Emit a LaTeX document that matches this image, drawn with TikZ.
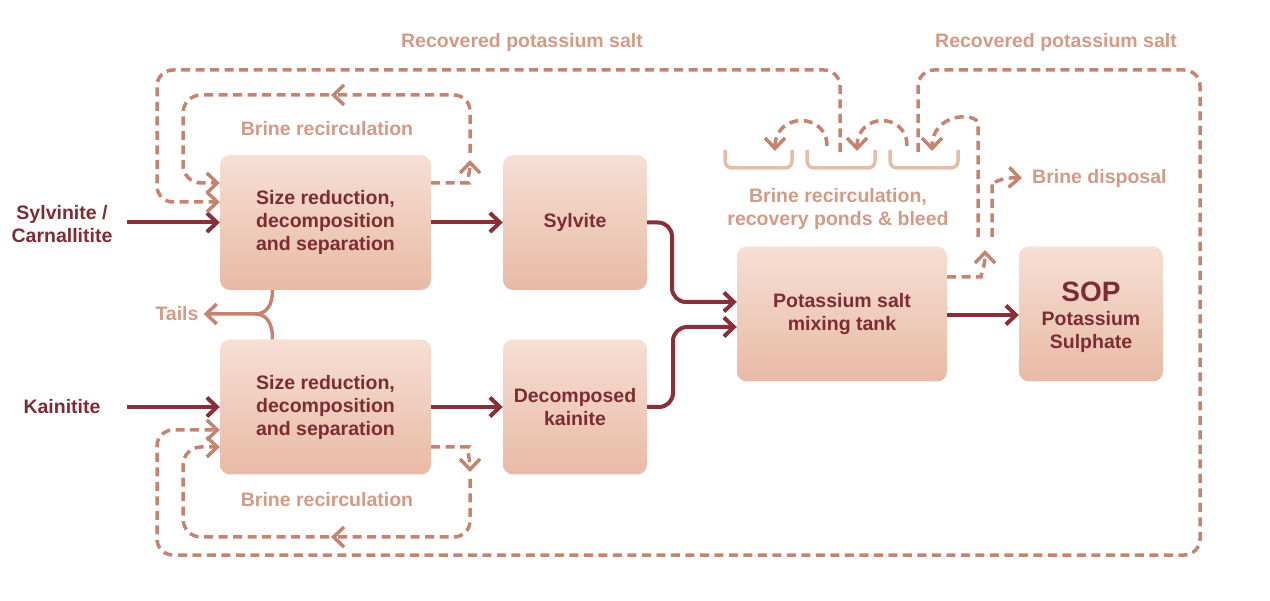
\documentclass[tikz,border=0pt]{standalone}
\usepackage{fontspec}
\setmainfont{Liberation Sans}
\usetikzlibrary{arrows.meta}
\definecolor{dred}{HTML}{8A2F38}
\definecolor{dtext}{HTML}{7E2C33}
\definecolor{dashc}{HTML}{C68470}
\definecolor{ltext}{HTML}{D39A86}
\definecolor{pondc}{HTML}{E5BDAA}
\definecolor{boxtop}{HTML}{F6DFD3}
\definecolor{boxbot}{HTML}{E8BAA5}
\tikzset{
  proc/.style={rounded corners=10pt, top color=boxtop, bottom color=boxbot, draw=none,
    minimum width=#1, minimum height=135pt, align=center, inner sep=0pt,
    font=\fontsize{19.5}{23}\selectfont\bfseries, text=dtext},
  lab/.style={font=\fontsize{19.5}{23}\selectfont\bfseries, text=ltext, align=center, inner sep=0pt},
  inlab/.style={font=\fontsize{19.5}{23}\selectfont\bfseries, text=dtext, align=center, inner sep=0pt},
  mainarrow/.style={draw=dred, line width=4pt, rounded corners=14pt,
    -{Straight Barb[length=10pt,width=19pt]}},
  recirc/.style={draw=dashc, line width=3.5pt, dash pattern=on 9pt off 5.5pt, rounded corners=16pt},
  recarrow/.style={recirc, -{Straight Barb[length=10.5pt,width=20pt]}},
  tailline/.style={draw=dashc, line width=3.5pt},
  pond/.style={draw=pondc, line width=3.5pt, rounded corners=7pt}
}
\begin{document}
\begin{tikzpicture}[x=1pt,y=-1pt]
\useasboundingbox (0,0) rectangle (1270,601);

% process boxes
\node[proc=211pt] (b1) at (325.5,222.5) {Size reduction,\\decomposition\\and separation};
\node[proc=211pt] (b2) at (325.5,407) {Size reduction,\\decomposition\\and separation};
\node[proc=144pt] (syl) at (575,222.5) {Sylvite};
\node[proc=144pt] (dk) at (575,407) {Decomposed\\kainite};
\node[proc=210pt] (mix) at (842,314) {Potassium salt\\mixing tank};
\node[proc=144pt] (sop) at (1091,314) {\rule{0pt}{26pt}{\fontsize{28}{28}\selectfont SOP}\\[1pt]Potassium\\Sulphate};

% inputs
\node[inlab] (in1) at (62,224) {Sylvinite /\\Carnallitite};
\node[inlab] (in2) at (62,407) {Kainitite};
\node[lab] (tails) at (177,314) {Tails};

% labels
\node[lab] (rps1) at (522,42) {Recovered potassium salt};
\node[lab] (rps2) at (1056,42) {Recovered potassium salt};
\node[lab] (br1) at (327,129) {Brine recirculation};
\node[lab] (br2) at (327,500) {Brine recirculation};
\node[lab] (ponds) at (838,208.5) {Brine recirculation,\\recovery ponds \& bleed};
\node[lab, anchor=west] (disp) at (1032,178) {Brine disposal};

% main flow
\coordinate (s1) at (127,222.5);
\coordinate (s2) at (127,407);
\draw[mainarrow] (s1) -- (b1.west);
\draw[mainarrow] (s2) -- (b2.west);
\draw[mainarrow] (b1.east) -- (syl.west);
\draw[mainarrow] (b2.east) -- (dk.west);
\draw[mainarrow] (syl.east) -- (672,222.5) -- (672,302) -- ([yshift=12pt]mix.west);
\draw[mainarrow] (dk.east) -- (673,407) -- (673,327) -- ([yshift=-13pt]mix.west);
\draw[mainarrow] ([yshift=-1pt]mix.east) -- ([yshift=-1pt]sop.west);

% tails
\draw[tailline] ([xshift=-53pt]b1.south) .. controls (272.5,306) and (266,314) .. (255,314);
\draw[tailline, -{Straight Barb[length=10.5pt,width=20pt]}] ([xshift=-53pt]b2.north) .. controls (272.5,322) and (266,314) .. (255,314) -- ([xshift=5pt]tails.east);

% ponds
\draw[pond] (725,150) -- (725,168) -- (792,168) -- (792,150);
\draw[pond] (807,150) -- (807,168) -- (875,168) -- (875,150);
\draw[pond] (890,150) -- (890,168) -- (958,168) -- (958,150);
\coordinate (p2) at (840,152);
\coordinate (p3) at (918,152);

% top inner brine loop
\draw[recarrow] ([yshift=39.5pt]b1.east) -- (452,183) .. controls (465,183) and (470,176) .. (470,160);
\draw[recarrow] (470,153) -- (470,95) -- (331,95);
\draw[recarrow, rounded corners=18pt] (329,95) -- (183,95) -- (183,183) -- ([yshift=39.5pt]b1.west);

% bottom inner brine loop
\draw[recarrow] ([yshift=-40pt]b2.east) -- (452,447) .. controls (465,447) and (470,455) .. (470,472);
\draw[recarrow] (470,479) -- (470,537) -- (331,537);
\draw[recarrow, rounded corners=18pt] (329,537) -- (183,537) -- (183,447) -- ([yshift=-40pt]b2.west);

% outer loops (recovered potassium salt)
\draw[recarrow] (p2) -- (840,70) -- (157,70) -- (157,202) -- ([yshift=20.5pt]b1.west);
\draw[recarrow] (p3) -- (918,70) -- (1200,70) -- (1200,555) -- (157,555) -- (157,430) -- ([yshift=-23pt]b2.west);

% brine from mixing tank to ponds and disposal
\draw[recarrow] ([yshift=37pt]mix.east) -- (965,277) .. controls (980,277) and (985,268) .. (985,250);
\draw[recarrow] (978,237) -- (978,140) .. controls (978,112) and (932,112) .. (932,151);
\draw[recarrow] (907,146) .. controls (907,112) and (857,112) .. (857,151);
\draw[recarrow] (827,146) .. controls (827,112) and (775,112) .. (775,151);
\draw[recarrow] (992,237) -- (992,198) .. controls (992,185) and (1000,177) .. ([xshift=-10pt]disp.west);
\end{tikzpicture}
\end{document}
